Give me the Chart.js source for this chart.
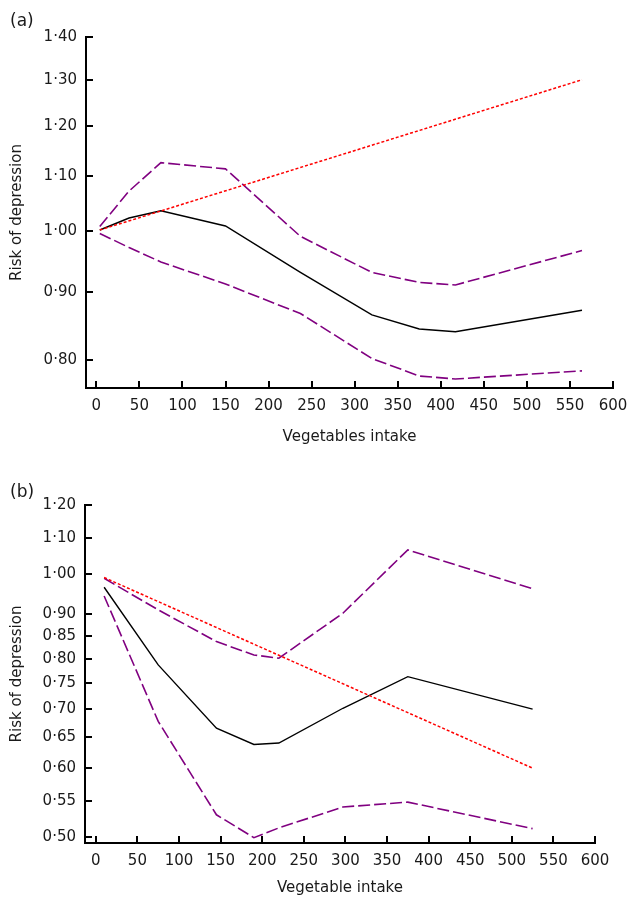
<!DOCTYPE html>
<html>
<head>
<meta charset="utf-8">
<script src="https://cdn.jsdelivr.net/npm/chart.js@4.4.1/dist/chart.umd.min.js"></script>
<style>
  body { margin: 0; background: #fff; width: 628px; height: 901px; position: relative; overflow: hidden; font-family: "DejaVu Sans", sans-serif; }
  canvas { position: absolute; left: 0; }
  .painel { position: absolute; left: 10px; font-size: 17px; color: #1a1a1a; }
</style>
</head>
<body>
<canvas id="grafico-a" width="628" height="450" style="top:0"></canvas>
<canvas id="grafico-b" width="628" height="451" style="top:450px"></canvas>
<div class="painel" style="top:10px">(a)</div>
<div class="painel" style="top:481px">(b)</div>
<script>
/* dois painéis: risco de depressão x consumo de vegetais (escala log no eixo y) */

const COR_ROXO  = "#800080";
const COR_LINHA = "#000000";
const COR_TEND  = "#ff0000";

// painel (a)
const X_A        = [4, 38, 75, 150, 237, 320, 375, 417, 564];
const RISCO_A    = [1.002, 1.023, 1.036, 1.009, 0.931, 0.865, 0.844, 0.840, 0.872];
const SUPERIOR_A = [1.008, 1.072, 1.126, 1.114, 0.991, 0.931, 0.915, 0.911, 0.967];
const INFERIOR_A = [0.996, 0.972, 0.948, 0.9125, 0.867, 0.802, 0.778, 0.774, 0.785];
const X_TEND_A   = [4, 564];
const TEND_A     = [1.002, 1.30];
const YTICKS_A   = [0.80, 0.90, 1.00, 1.10, 1.20, 1.30, 1.40];

// painel (b)
const X_B        = [10, 75, 145, 190, 220, 297, 375, 525];
const RISCO_B    = [0.966, 0.787, 0.666, 0.638, 0.6405, 0.702, 0.763, 0.7005];
const SUPERIOR_B = [0.989, 0.910, 0.837, 0.808, 0.801, 0.902, 1.066, 0.962];
const INFERIOR_B = [0.944, 0.678, 0.530, 0.499, 0.512, 0.541, 0.548, 0.511];
const X_TEND_B   = [10, 524];
const TEND_B     = [0.991, 0.600];
const YTICKS_B   = [0.50, 0.55, 0.60, 0.65, 0.70, 0.75, 0.80, 0.85, 0.90, 1.00, 1.10, 1.20];

const XTICKS = [0, 50, 100, 150, 200, 250, 300, 350, 400, 450, 500, 550, 600];

Chart.defaults.font.family = "'DejaVu Sans', sans-serif";
Chart.defaults.font.size = 15;
Chart.defaults.color = "#1a1a1a";

// marcas dos eixos voltadas para dentro
const ticksInternos = {
  id: "ticksInternos",
  afterDraw(chart) {
    const { ctx, chartArea } = chart;
    const sx = chart.scales.x, sy = chart.scales.y;
    ctx.save();
    ctx.strokeStyle = "#000";
    ctx.lineWidth = 2;
    ctx.beginPath();
    for (const t of sx.ticks) {
      const px = Math.round(sx.getPixelForValue(t.value));
      ctx.moveTo(px, chartArea.bottom);
      ctx.lineTo(px, chartArea.bottom - 7);
    }
    for (const t of sy.ticks) {
      const py = Math.round(sy.getPixelForValue(t.value));
      ctx.moveTo(chartArea.left, py);
      ctx.lineTo(chartArea.left + 7, py);
    }
    ctx.stroke();
    ctx.restore();
  }
};

function pontos(xs, ys) {
  return xs.map((x, i) => ({ x, y: ys[i] }));
}

function serie(xs, ys, cor, tracejado, largura) {
  return {
    data: pontos(xs, ys),
    borderColor: cor,
    borderWidth: largura,
    borderDash: tracejado,
    pointRadius: 0,
    fill: false,
    tension: 0,
  };
}

function montarGrafico(id, cfg) {
  const ctx = document.getElementById(id).getContext("2d");
  return new Chart(ctx, {
    type: "line",
    data: {
      datasets: [
        serie(cfg.xTend, cfg.tend, COR_TEND, [3, 2], 1.5),
        serie(cfg.x, cfg.superior, COR_ROXO, [12, 4], 1.6),
        serie(cfg.x, cfg.inferior, COR_ROXO, [12, 4], 1.6),
        serie(cfg.x, cfg.risco, COR_LINHA, [], 1.4),
      ]
    },
    options: {
      responsive: false,
      animation: false,
      devicePixelRatio: 1,
      layout: { padding: { left: 0, top: cfg.topo, right: cfg.direita, bottom: 0 } },
      plugins: { legend: { display: false }, tooltip: { enabled: false } },
      scales: {
        x: {
          type: "linear",
          min: cfg.xMin,
          max: 600,
          afterBuildTicks: s => { s.ticks = XTICKS.map(v => ({ value: v })); },
          afterFit: s => { s.height = cfg.alturaX; s.paddingLeft = 0; s.paddingRight = 0; },
          grid: { display: true, drawOnChartArea: false, drawTicks: false },
          border: { display: true, color: "#000", width: 2 },
          ticks: { autoSkip: false, maxRotation: 0, padding: 9 },
          title: { display: true, text: cfg.tituloX, padding: { top: 0, bottom: 4 } }
        },
        y: {
          type: "logarithmic",
          min: cfg.yMin,
          max: cfg.yMax,
          afterBuildTicks: s => { s.ticks = cfg.yTicks.map(v => ({ value: v })); },
          afterFit: s => { s.width = cfg.larguraY; },
          grid: { display: true, drawOnChartArea: false, drawTicks: false },
          border: { display: true, color: "#000", width: 2 },
          ticks: { padding: 9, callback: v => v.toFixed(2).replace(".", "·") },
          title: { display: true, text: "Risk of depression", padding: { top: 8, bottom: 0 } }
        }
      }
    },
    plugins: [ticksInternos]
  });
}

montarGrafico("grafico-a", {
  x: X_A, risco: RISCO_A, superior: SUPERIOR_A, inferior: INFERIOR_A,
  xTend: X_TEND_A, tend: TEND_A, yTicks: YTICKS_A,
  yMin: 0.762, yMax: 1.40, xMin: -12,
  topo: 37, direita: 15, alturaX: 62, larguraY: 86,
  tituloX: "Vegetables intake"
});

montarGrafico("grafico-b", {
  x: X_B, risco: RISCO_B, superior: SUPERIOR_B, inferior: INFERIOR_B,
  xTend: X_TEND_B, tend: TEND_B, yTicks: YTICKS_B,
  yMin: 0.492, yMax: 1.20, xMin: -13,
  topo: 55, direita: 33, alturaX: 58, larguraY: 85,
  tituloX: "Vegetable intake"
});
</script>
</body>
</html>
